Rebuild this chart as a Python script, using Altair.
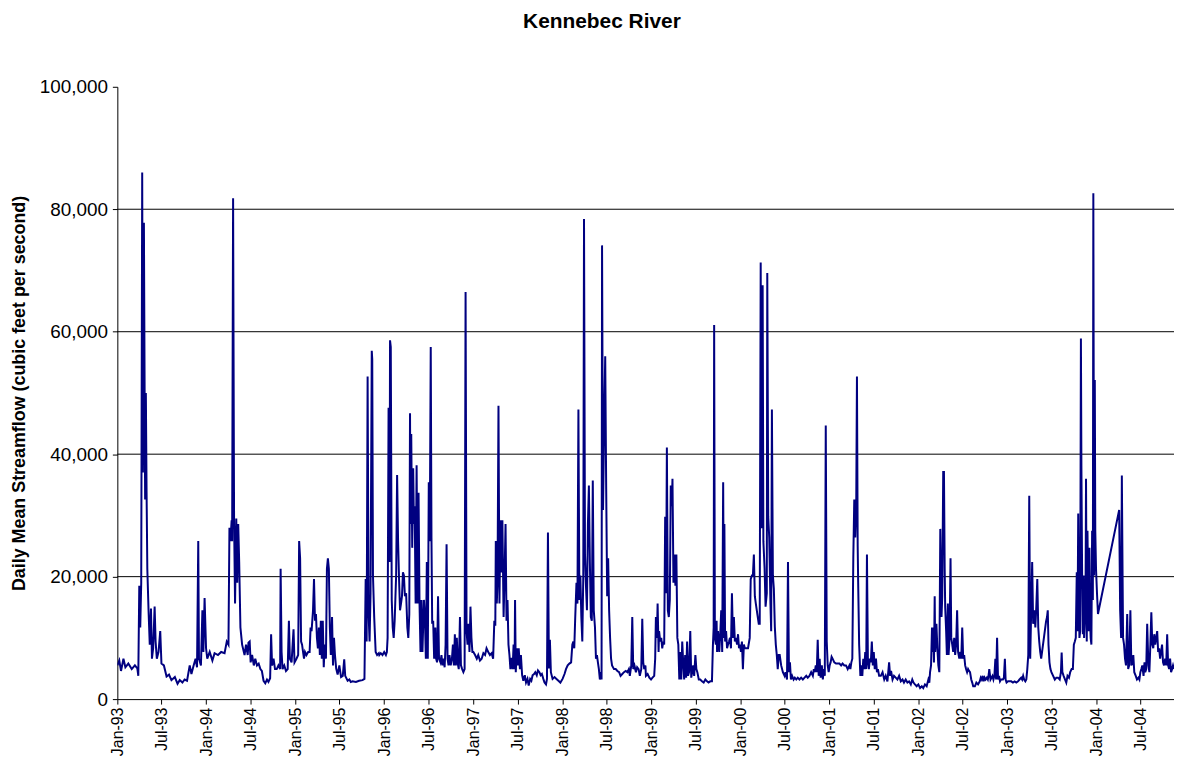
import altair as alt
import pandas as pd

START = "1993-01-01"
TITLE = "Kennebec River"
Y_TITLE = "Daily Mean Streamflow (cubic feet per second)"

# Day offsets from 1993-01-01 and daily mean streamflow (cfs)
DAYS_A = [0,8,15,25,33,45,59,72,82,86,90,94,98,102,105,109,112,114,117,120,123,128,133,138,142,147,153,157,162,169,176,181,191,202,212,222,236,247,256,267,276,286,297,304,313,321,327,332,335,343,349,353,358,364,369,379,390,399,413,426,440,449,456,460,464,469,471,475,479,483,488,492,496,500,505,512,522,528,535]
FLOW_A = [5500,6300,4600,6600,5200,5800,4900,5500,5000,3800,18500,11700,19000,86000,37000,77800,50000,32600,50000,33700,21300,14500,8900,14800,6600,8300,15100,9400,6600,7700,11100,5800,5500,3700,4000,3100,3600,2500,3100,2700,3200,3000,5500,4100,5500,6600,5200,25800,6600,5500,14500,7700,16500,8300,6600,7700,6300,7500,7200,7700,7500,9400,8900,28000,25800,29200,25800,81800,29200,15600,29500,19000,28600,22400,11700,8900,7200,8900,7200]

DAYS_B = [538,543,547,553,560,566,573,580,587,593,600,607,614,620,627,631,635,641,647,654,661,668,670,674,678,685,692,699,704,708,715,723,727,735,742,746,750,754,758,762,766,770,776,783,789,793,797,803,807,811,815,819,823,827,831,835,839,843,847,851,856,860,864,868,872,876,881,885,889,893,898,904,911,918,925,931,935,945,952,958,965,979,992,1006,1014,1019,1023,1027,1031,1035,1039,1044,1046,1049,1054,1060,1066,1073]
FLOW_B = [9200,9400,6000,7200,5500,6600,5500,5800,4900,4600,3000,2600,3200,2800,3400,10600,5500,6600,4900,4900,5500,4900,21300,7700,4900,5500,4600,4900,12800,6600,6000,11400,6000,6600,7200,25800,23000,9400,8900,7700,6600,7700,7200,7700,7700,11700,11100,14500,19600,12800,13900,10000,8300,11700,7200,12800,6600,12800,5200,8900,6600,21300,23000,21300,11700,7200,13400,5500,10000,7200,5000,4000,5500,3600,3800,6500,3800,3000,3200,2800,2900,2800,3000,3100,3300,19600,9400,52700,14000,9400,17300,56900,55500,20200,13400,7700,7200,7500]

DAYS_C = [1075,1081,1088,1095,1102,1106,1109,1113,1117,1119,1122,1126,1130,1134,1138,1144,1148,1152,1156,1160,1164,1168,1172,1176,1180,1185,1190,1194,1198,1201,1203,1206,1210,1214,1217,1220,1224,1228,1232,1236,1240,1244,1248,1252,1258,1262,1266,1270,1274,1278,1282,1286,1289,1292,1296,1300,1305,1308,1312,1316,1320,1326,1330,1334,1339,1343,1347,1351,1355,1359,1363,1368,1373,1377,1381,1385,1389,1393,1397,1401,1406,1410,1415,1420,1425,1429,1433,1437,1441,1445,1449,1453,1457,1461,1468,1475,1481,1488,1495,1502,1509,1515,1522,1529,1536,1542,1547,1551,1553,1557,1560,1564,1568,1572,1576,1580,1585,1589,1593,1597,1601,1605,1609,1613,1617]
FLOW_C = [7200,7500,7200,7700,7200,7700,10000,47600,22400,58600,57500,16200,11700,10000,12800,20200,36600,25800,19600,14500,15600,16800,20700,20200,16800,17300,11700,10000,13900,46700,28600,43300,24700,37700,28600,31500,15600,38200,15600,33700,15600,7700,16200,7700,16200,13400,6600,22400,6600,35400,25800,57500,26400,12300,12800,6600,11700,6600,6000,16800,6600,6000,7200,5500,6600,5200,8900,25300,6600,5500,7200,5500,6600,8900,5500,10600,5500,10000,5800,4900,13400,5500,4900,4400,4900,66500,11100,8900,12300,7700,15100,10000,7700,7700,7200,6600,7200,6300,6600,7500,7200,8300,7700,7200,7500,6600,12800,12000,25800,15600,19000,47900,15600,29200,20700,29200,13400,20200,28600,12800,16200,8900,7200,4900,6600]

DAYS_D = [1618,1622,1626,1630,1632,1635,1639,1643,1647,1652,1656,1661,1666,1672,1677,1683,1688,1694,1699,1704,1710,1715,1721,1726,1732,1737,1742,1748,1753,1759,1763,1767,1771,1775,1779,1786,1794,1802,1810,1818,1827,1835,1841,1848,1855,1862,1867,1871,1875,1879,1884,1888,1892,1896,1900,1904,1908,1912,1915,1919,1923,1927,1931,1935,1939,1943,1947,1951,1955,1960,1964,1968,1972,1976,1980,1984,1987,1989,1993,1998,2002,2006,2010,2014,2018,2022,2026,2030,2038,2045,2052,2059,2065,2072,2079,2086,2093,2099,2103,2109,2113,2117,2122,2128,2133,2139,2144,2150,2154,2158,2162,2167]
FLOW_D = [6600,4900,8900,4900,16200,4400,8300,5500,8300,4900,7200,3900,3000,3900,2700,3300,2200,3300,3000,3900,4100,4400,3900,4700,4400,3900,4100,3300,2700,2400,3300,27200,5000,9700,4400,3300,3600,3300,3000,2700,3300,4100,4900,5500,5800,6000,8900,9400,8300,13400,19000,15600,47300,16200,20200,13400,9400,20200,78400,23600,18500,14500,28600,34900,22400,13400,12800,35700,14500,11700,6600,7200,6000,4900,3200,4400,3200,74100,30900,46200,56000,34300,16800,23000,14500,10000,6600,5500,4900,4900,4600,4400,3800,4100,4400,4600,4400,4900,3800,5500,13400,4900,5500,4400,5200,4900,3800,4900,13100,6000,4900,5500]

DAYS_E = [2169,2176,2183,2190,2196,2203,2207,2210,2214,2217,2221,2223,2228,2232,2236,2240,2244,2248,2252,2255,2259,2263,2267,2271,2275,2278,2282,2286,2290,2294,2298,2302,2306,2310,2314,2318,2322,2326,2330,2334,2338,2342,2346,2351,2355,2359,2363,2367,2372,2376,2380,2386,2392,2399,2406,2413,2420,2426,2433,2440,2444,2447,2449,2452,2456,2459,2461,2465,2470,2474,2478,2482,2486,2489,2491,2494,2498,2502,2506,2510,2514,2518,2522,2526,2530,2534,2538,2543,2547,2551,2555,2559,2563,2567,2571,2575,2582,2588,2595,2599,2604,2608,2612,2616,2620,2624,2628,2632,2636,2640,2643,2646,2648,2651,2656,2660,2665,2667,2671,2675,2680,2683,2686,2690,2694,2698,2702,2706,2710,2714]
FLOW_E = [3800,4100,3500,3200,3500,3800,6600,13400,10000,15600,7700,11100,9400,10000,8300,9400,8900,29800,17300,41100,14500,13400,16200,34900,31500,36000,19000,23600,18500,23600,10000,8900,3200,7700,3200,9400,6000,3200,7200,3500,9400,3800,4400,11100,3500,4400,5500,3800,7200,4900,4400,3200,3200,2900,2700,3200,2900,2700,2900,2900,8900,11700,61100,10000,8900,12800,7700,11100,7700,10600,14500,7700,35400,10000,28600,9400,11100,8300,8900,9400,10000,8300,17300,10000,13400,9400,10000,8900,10600,8300,8900,7700,9400,4900,8900,8300,8300,8300,10000,19600,20200,20200,23600,16800,15600,14500,13400,12300,12300,71300,27900,45000,67600,25800,21300,15100,17300,69600,29800,26400,15600,11100,47300,20200,18000,11800,8900,7200,4900,7200]

DAYS_F = [2718,2724,2731,2738,2742,2748,2752,2756,2760,2764,2769,2775,2780,2786,2792,2799,2806,2813,2820,2827,2833,2840,2847,2854,2858,2862,2866,2870,2874,2878,2882,2886,2891,2895,2899,2903,2907,2911,2915,2919,2923,2927,2931,2935,2942,2949,2956,2963,2970,2976,2983,2990,2997,3004,3008,3012,3016,3020,3024,3028,3032,3035,3038,3040,3044,3049,3053,3057,3061,3065,3069,3073,3076,3080,3084,3088,3092,3096,3100,3104,3108,3113,3117,3121,3126,3133,3140,3147,3153,3160,3167,3171,3175,3181,3187,3194,3201,3208,3215,3222,3228,3235,3242,3249,3256,3262]
FLOW_F = [7200,5500,4400,3800,4400,3200,22400,4400,6000,3200,3800,3200,3500,3200,3500,3200,3500,3200,3500,3800,3500,3800,4400,3800,4900,4400,5500,4400,9700,3800,6600,3500,5500,3200,4900,3800,44700,9400,5500,4400,5500,6000,6900,6600,6000,5800,5800,5800,5500,5800,5500,5500,4900,5500,4900,6000,6600,23000,32600,26400,31500,52700,25000,19000,8900,3800,5500,3800,6600,4900,7700,4900,23600,6000,4900,6600,6000,9400,5500,7700,4900,6600,4400,4900,3800,3800,4400,3200,3800,2900,6000,3800,4600,3200,3800,3500,3200,3800,2900,3200,2700,3200,2700,2900,2400,3200]

DAYS_G = [3267,3273,3280,3287,3294,3301,3307,3314,3321,3328,3332,3335,3339,3343,3346,3348,3351,3354,3356,3361,3365,3369,3373,3377,3382,3385,3389,3392,3395,3397,3401,3404,3408,3411,3415,3419,3422,3426,3430,3434,3438,3442,3446,3450,3455,3459,3463,3467,3471,3475,3479,3483,3487,3491,3495,3499,3504,3508,3512,3519,3525,3532,3539,3543,3547,3551,3555,3559,3563,3568,3572,3576,3578,3583,3587,3591,3595,3599,3603,3606,3610,3614,3618,3622,3626,3630,3634,3638,3642,3645,3649,3655,3662,3668,3675,3682,3689,3696,3702,3709,3713,3717,3721,3726,3730,3734,3738,3742,3746,3750,3754,3758,3763,3767,3771,3775,3779,3783,3787,3791]
FLOW_G = [2700,2400,2100,2400,1800,2100,1800,2400,2100,3200,2700,4400,5500,11700,7700,11700,6000,16800,7700,12300,8300,5500,4400,27800,13400,16800,37100,37100,21300,15100,11100,7200,15600,7200,10000,23000,10000,8900,7700,10000,7200,8900,14500,7700,6600,7700,6600,11700,6600,7200,5500,4900,4400,4900,4600,4400,3200,2700,2100,2100,2700,2400,2900,3500,3200,3800,2900,3500,3200,3500,3200,4100,4900,3200,3500,3800,3200,3800,6600,3200,10000,3200,3800,2900,3200,3200,3200,3500,6600,3200,2700,2900,2900,2900,2700,2900,2700,2900,3200,3500,3200,3800,3200,2900,3200,4900,7200,33200,6600,14500,22400,12300,14500,11700,15100,19600,11700,9400,7700,6600]

DAYS_H = [3811,3815,3818,3821,3825,3829,3833,3840,3847,3853,3860,3867,3872,3875,3878,3883,3889,3894,3899,3905,3910,3916,3921,3925,3929,3933,3937,3940,3943,3946,3948,3951,3954,3956,3959,3962,3965,3967,3970,3973,3975,3978,3981,3984,3986,3989,3992,3994,3997,4000,4003,4005,4008,4011,4013,4016,4020,4024,4111,4115,4119,4122,4125,4127,4131,4135,4139,4144,4148,4152,4157,4161,4165,4169,4173,4179,4184,4190,4194,4198,4202,4206,4211,4215,4218,4222,4226,4231,4235,4239,4243,4247,4251,4255,4259,4263,4267,4271,4275,4279,4283,4287,4291,4295,4300,4304,4308,4312,4316,4320,4324,4328,4332,4336]
FLOW_H = [12700,13400,14500,8900,6000,4900,4400,3800,3200,3500,3500,3200,4400,7600,4400,3800,3200,2700,3800,3500,4400,4900,4900,8900,9400,10000,20700,11100,30300,14500,10000,11100,58900,38200,20200,10600,20200,10000,12800,16200,36000,9400,27500,16200,11100,24700,12300,10000,8900,27500,16200,82600,20200,52100,27500,21300,17300,13900,30900,14500,10000,36500,20200,10000,8900,6600,5500,13900,4900,5500,14500,5500,6000,7200,4400,3800,3200,3500,3200,4400,4900,5500,3800,6000,4400,4900,12300,5500,4400,8900,14200,8900,8300,10600,8900,10000,11100,7700,8300,6600,7700,8900,6000,5500,6600,5500,10600,5500,4900,6600,4400,4900,5500,4900]

Y_TICKS = [0, 20000, 40000, 60000, 80000, 100000]
GRID_VALUES = [20000, 40000, 60000, 80000]
TICK_YEARS = list(range(1993, 2005))
TICK_MONTHS = [1, 7]

segments = [(DAYS_A, FLOW_A), (DAYS_B, FLOW_B), (DAYS_C, FLOW_C), (DAYS_D, FLOW_D),
            (DAYS_E, FLOW_E), (DAYS_F, FLOW_F), (DAYS_G, FLOW_G), (DAYS_H, FLOW_H)]
days, flows = [], []
for d, f in segments:
    assert len(d) == len(f)
    days += d
    flows += f

df = pd.DataFrame({"day": days, "flow": flows})
df["date"] = (pd.Timestamp(START) + pd.to_timedelta(df["day"], unit="D")).dt.strftime("%Y-%m-%d")

tick_dates = [alt.DateTime(year=y, month=m, date=1, utc=True) for y in TICK_YEARS for m in TICK_MONTHS]
x_domain = [alt.DateTime(year=1993, month=1, date=1, utc=True),
            alt.DateTime(year=2004, month=11, date=15, utc=True)]

FONT = "Liberation Sans"

y_axis = alt.Axis(values=Y_TICKS, format=",d", labelFont=FONT, labelFontSize=19,
                  labelColor="black", labelPadding=5, tickSize=5, tickColor="black",
                  domainColor="black", grid=False, title=Y_TITLE,
                  titleFont=FONT, titleFontSize=18, titleFontWeight="bold",
                  titleColor="black", titlePadding=11)
y_scale = alt.Scale(domain=[0, 100000], nice=False)

line = alt.Chart(df).mark_line(color="#000080", strokeWidth=2, clip=True).encode(
    x=alt.X("date:T",
            scale=alt.Scale(type="utc", domain=x_domain),
            axis=alt.Axis(values=tick_dates, format="%b-%y", labelAngle=270,
                          labelAlign="right", labelBaseline="middle",
                          labelFont=FONT, labelFontSize=16, labelColor="black",
                          labelPadding=3, labelOverlap=False, labelFlush=False,
                          tickSize=5, tickColor="black", domainColor="black",
                          grid=False, title=None)),
    y=alt.Y("flow:Q", scale=y_scale, axis=y_axis, title=Y_TITLE),
)

grid = alt.Chart(pd.DataFrame({"flow": GRID_VALUES})).mark_rule(color="black", strokeWidth=1).encode(
    y=alt.Y("flow:Q", scale=y_scale, axis=y_axis, title=Y_TITLE)
)

chart = alt.layer(grid, line).properties(
    width=1063,
    height=616,
    title=alt.TitleParams(TITLE, font=FONT, fontSize=21, fontWeight="bold", color="black",
                          anchor="middle", dx=-44, offset=46),
    autosize=alt.AutoSizeParams(type="none"),
    padding={"left": 110, "top": 77, "right": 0, "bottom": 59},
    background="white",
).configure_view(stroke="transparent")

chart.save("out.html", embed_options={"renderer": "svg", "actions": False})
